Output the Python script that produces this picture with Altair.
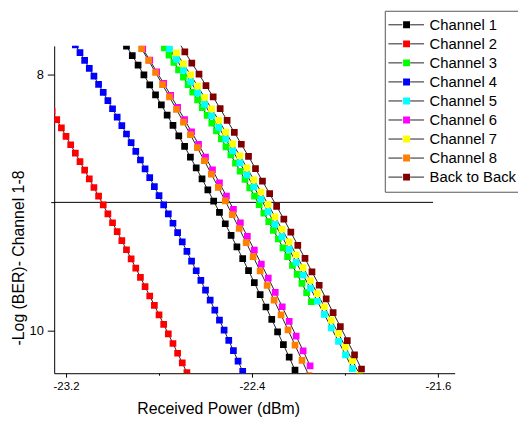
import altair as alt
import pandas as pd

names = ["Channel 1", "Channel 2", "Channel 3", "Channel 4", "Channel 5",
         "Channel 6", "Channel 7", "Channel 8", "Back to Back"]
colors = ["#000000", "#FF0000", "#00FF00", "#0000FF", "#00FFFF",
          "#FF00FF", "#FFFF00", "#FF8000", "#800000"]

ch1_x = [-22.940, -22.915, -22.890, -22.865, -22.840, -22.815, -22.790, -22.765, -22.740, -22.715,
         -22.690, -22.665, -22.640, -22.615, -22.590, -22.565, -22.540, -22.515, -22.490, -22.465,
         -22.440, -22.415, -22.390, -22.365, -22.340, -22.315, -22.290, -22.265, -22.240, -22.215]
ch1_y = [7.780, 7.854, 7.929, 8.005, 8.082, 8.160, 8.239, 8.318, 8.399, 8.481,
         8.563, 8.647, 8.731, 8.816, 8.903, 8.990, 9.078, 9.167, 9.257, 9.348,
         9.440, 9.533, 9.627, 9.721, 9.817, 9.914, 10.011, 10.110, 10.209, 10.310]

ch2_x = [-23.26, -23.24, -23.22, -23.20, -23.18, -23.16, -23.14, -23.12, -23.10, -23.08,
         -23.06, -23.04, -23.02, -23.00, -22.98, -22.96, -22.94, -22.92, -22.90, -22.88,
         -22.86, -22.84, -22.82, -22.80, -22.78, -22.76, -22.74, -22.72, -22.70, -22.68]
ch2_y = [8.290, 8.354, 8.419, 8.484, 8.550, 8.615, 8.682, 8.749, 8.816, 8.884,
         8.952, 9.020, 9.090, 9.159, 9.229, 9.299, 9.370, 9.441, 9.513, 9.585,
         9.658, 9.731, 9.804, 9.878, 9.952, 10.027, 10.102, 10.178, 10.254, 10.330]

ch3_x = [-22.777, -22.757, -22.736, -22.716, -22.695, -22.675, -22.655, -22.634, -22.614, -22.593,
         -22.573, -22.553, -22.532, -22.512, -22.491, -22.471, -22.451, -22.430, -22.410, -22.389,
         -22.369, -22.349, -22.328, -22.308, -22.287, -22.267, -22.247, -22.226, -22.206, -22.185,
         -22.165, -22.145]
ch3_y = [7.794, 7.850, 7.907, 7.965, 8.023, 8.081, 8.140, 8.200, 8.260, 8.320,
         8.381, 8.442, 8.504, 8.567, 8.630, 8.693, 8.757, 8.821, 8.886, 8.952,
         9.018, 9.084, 9.151, 9.218, 9.286, 9.355, 9.424, 9.493, 9.563, 9.633,
         9.704, 9.776]

ch4_x = [-23.16, -23.14, -23.12, -23.10, -23.08, -23.06, -23.04, -23.02, -23.00, -22.98,
         -22.96, -22.94, -22.92, -22.90, -22.88, -22.86, -22.84, -22.82, -22.80, -22.78,
         -22.76, -22.74, -22.72, -22.70, -22.68, -22.66, -22.64, -22.62, -22.60, -22.58,
         -22.56, -22.54, -22.52, -22.50, -22.48, -22.46, -22.44]
ch4_y = [7.770, 7.830, 7.891, 7.953, 8.015, 8.078, 8.141, 8.205, 8.269, 8.334,
         8.400, 8.466, 8.533, 8.601, 8.669, 8.738, 8.807, 8.877, 8.948, 9.019,
         9.090, 9.163, 9.236, 9.309, 9.383, 9.458, 9.534, 9.609, 9.686, 9.763,
         9.841, 9.919, 9.998, 10.078, 10.158, 10.239, 10.320]

ch5_x = [-22.755, -22.725, -22.695, -22.664, -22.634, -22.604, -22.574, -22.543, -22.513, -22.483,
         -22.452, -22.422, -22.392, -22.361, -22.331, -22.301, -22.271, -22.240, -22.210, -22.180,
         -22.149, -22.119, -22.089, -22.059, -22.028, -21.998, -21.968]
ch5_y = [7.799, 7.884, 7.970, 8.058, 8.145, 8.235, 8.324, 8.414, 8.506, 8.598,
         8.692, 8.786, 8.880, 8.976, 9.073, 9.171, 9.268, 9.367, 9.468, 9.568,
         9.670, 9.772, 9.875, 9.980, 10.085, 10.191, 10.298]

ch6_x = [-22.870, -22.840, -22.810, -22.780, -22.750, -22.720, -22.690, -22.660, -22.630, -22.600,
         -22.570, -22.540, -22.510, -22.480, -22.450, -22.420, -22.390, -22.360, -22.330, -22.300,
         -22.270, -22.240, -22.210, -22.180, -22.150]
ch6_y = [7.800, 7.889, 7.980, 8.071, 8.164, 8.258, 8.354, 8.450, 8.547, 8.646,
         8.747, 8.848, 8.951, 9.054, 9.159, 9.266, 9.373, 9.482, 9.591, 9.703,
         9.815, 9.929, 10.044, 10.159, 10.276]

ch7_x = [-22.725, -22.695, -22.664, -22.634, -22.604, -22.574, -22.543, -22.513, -22.483, -22.452,
         -22.422, -22.392, -22.361, -22.331, -22.301, -22.271, -22.240, -22.210, -22.180, -22.149,
         -22.119, -22.089, -22.059, -22.028, -21.998, -21.968, -21.937]
ch7_y = [7.832, 7.918, 8.005, 8.092, 8.181, 8.270, 8.360, 8.451, 8.543, 8.636,
         8.730, 8.824, 8.919, 9.016, 9.113, 9.210, 9.309, 9.409, 9.509, 9.610,
         9.712, 9.815, 9.919, 10.024, 10.129, 10.236, 10.343]

ch8_x = [-22.875, -22.845, -22.815, -22.785, -22.755, -22.725, -22.695, -22.665, -22.635, -22.605,
         -22.575, -22.545, -22.515, -22.485, -22.455, -22.425, -22.395, -22.365, -22.335, -22.305,
         -22.275, -22.245, -22.215, -22.185, -22.155]
ch8_y = [7.800, 7.892, 7.986, 8.081, 8.177, 8.274, 8.373, 8.472, 8.573, 8.675,
         8.779, 8.883, 8.989, 9.096, 9.204, 9.314, 9.424, 9.536, 9.649, 9.764,
         9.879, 9.996, 10.114, 10.233, 10.353]

b2b_x = [-22.719, -22.689, -22.659, -22.628, -22.598, -22.567, -22.537, -22.507, -22.476, -22.446,
         -22.415, -22.385, -22.355, -22.324, -22.294, -22.263, -22.233, -22.203, -22.172, -22.142,
         -22.111, -22.081, -22.051, -22.020, -21.990, -21.959, -21.929]
b2b_y = [7.739, 7.825, 7.912, 7.999, 8.088, 8.177, 8.268, 8.360, 8.453, 8.546,
         8.641, 8.737, 8.834, 8.932, 9.031, 9.131, 9.233, 9.335, 9.438, 9.542,
         9.647, 9.754, 9.861, 9.970, 10.079, 10.190, 10.301]

threshold_x = [-23.251, -21.621]
threshold_y = [9.0]

x_ticks = [-23.2, -22.8, -22.4, -22.0, -21.6]
y_ticks = [8, 9, 10]
x_domain = [-23.251, -21.528]
y_domain = [7.778, 10.334]

series_x = [ch1_x, ch2_x, ch3_x, ch4_x, ch5_x, ch6_x, ch7_x, ch8_x, b2b_x]
series_y = [ch1_y, ch2_y, ch3_y, ch4_y, ch5_y, ch6_y, ch7_y, ch8_y, b2b_y]

rows = []
for name, xs, ys in zip(names, series_x, series_y):
    for xv, yv in zip(xs, ys):
        rows.append({"series": name, "lseries": name + " ", "x": xv, "y": yv})
df = pd.DataFrame(rows)

thr = pd.DataFrame({"x": [threshold_x[0]], "x2": [threshold_x[1]], "y": threshold_y})

FONT = "Liberation Sans"
xscale = alt.Scale(domain=x_domain, nice=False, zero=False)
yscale = alt.Scale(domain=y_domain, nice=False, zero=False, reverse=True)

major_x = ("abs(datum.value + 23.2) < 0.01 || abs(datum.value + 22.4) < 0.01 "
           "|| abs(datum.value + 21.6) < 0.01")

xaxis = alt.Axis(
    values=x_ticks, title="Received Power (dBm)", grid=False,
    labelExpr=f"({major_x}) ? '-' + format(abs(datum.value), '.1f') : ''",
    tickSize={"condition": {"test": major_x, "value": 4}, "value": 2},
    labelFontSize=11.5, labelPadding=3, labelColor="black", labelFlush=False,
    labelOverlap=False, domainColor="black", tickColor="black",
    titleFontSize=16, titleFontWeight="normal", titleColor="black",
    titleX=165.8, titleY=41, titleBaseline="alphabetic", titleAlign="center",
)
yaxis = alt.Axis(
    values=y_ticks, title="-Log (BER)- Channel 1-8", grid=False,
    labelExpr="datum.value == 9 ? '' : format(datum.value, '.0f')",
    tickSize={"condition": {"test": "datum.value == 9", "value": 3.5}, "value": 7},
    labelFontSize=13, labelPadding=4, labelColor="black", labelOverlap=False,
    domainColor="black", tickColor="black",
    titleFontSize=16, titleFontWeight="normal", titleColor="black",
    titleX=-31, titleY=214, titleBaseline="alphabetic", titleAlign="center", titleAngle=270,
)

rule = alt.Chart(thr).mark_rule(color="black", strokeWidth=1, clip=True).encode(
    x=alt.X("x:Q", scale=xscale, axis=xaxis),
    x2="x2:Q",
    y=alt.Y("y:Q", scale=yscale, axis=yaxis),
)

lines = alt.Chart(df).mark_line(strokeWidth=1, clip=True).encode(
    x=alt.X("x:Q", scale=xscale),
    y=alt.Y("y:Q", scale=yscale),
    stroke=alt.Stroke(
        "lseries:N", title="",
        scale=alt.Scale(domain=[n + " " for n in names], range=["#222222"] * 9),
        legend=alt.Legend(
            orient="none", legendX=331.3, legendY=-35.5, padding=4.7,
            direction="vertical",
            symbolType="M-1,0L-0.22,0M0.22,0L1,0", symbolSize=1296,
            symbolStrokeWidth=1, symbolFillColor="transparent", symbolOffset=1.5,
            labelExpr="''", labelFontSize=15,
            clipHeight=19, rowPadding=0.25,
        ),
    ),
)

points = alt.Chart(df).mark_square(size=46, opacity=1, strokeWidth=0, clip=True).encode(
    x=alt.X("x:Q", scale=xscale),
    y=alt.Y("y:Q", scale=yscale),
    fill=alt.Fill(
        "series:N", title="",
        scale=alt.Scale(domain=names, range=colors),
        legend=alt.Legend(
            orient="none", legendX=334.3, legendY=-35.5, padding=4.7,
            strokeColor="#555555", direction="vertical",
            symbolType="square", symbolSize=49,
            symbolStrokeWidth=0, symbolOffset=9.8,
            labelOffset=15.7, labelFontSize=15, labelColor="black", labelLimit=300,
            clipHeight=19, rowPadding=0.25,
        ),
    ),
)

chart = alt.layer(rule, lines, points).properties(
    width=405, height=331,
    padding={"left": 46.7, "top": 36, "right": 64, "bottom": 44},
    autosize=alt.AutoSizeParams(type="none"),
    background="white",
).configure(font=FONT).configure_view(stroke="transparent")

chart.save("out.html", embed_options={"renderer": "svg", "actions": False})
